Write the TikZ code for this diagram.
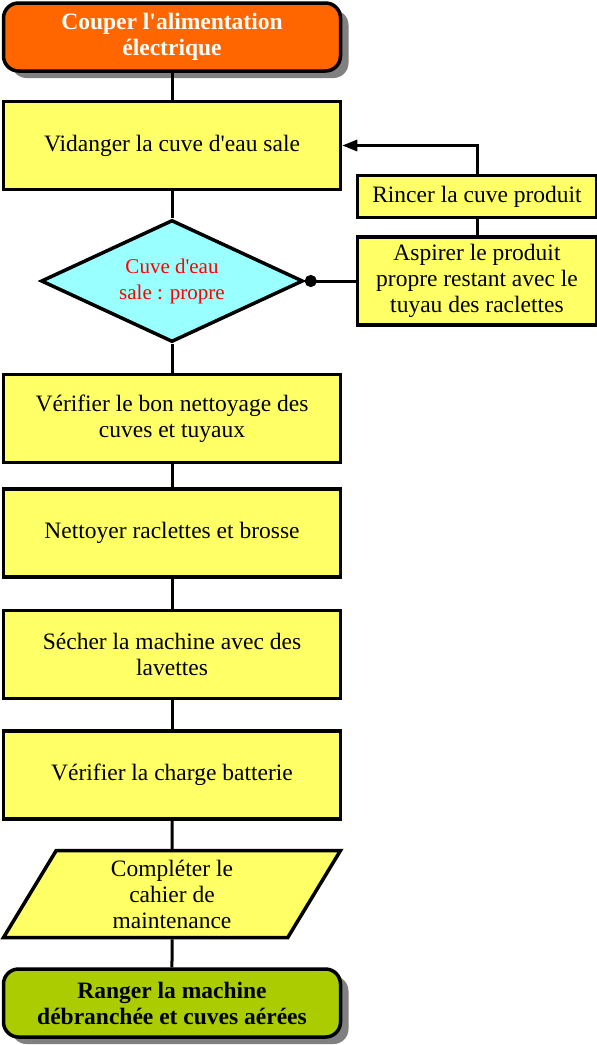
\documentclass[tikz,border=0pt]{standalone}
\usepackage{fontspec}
\setmainfont{Liberation Serif}
\usepackage{tikz}
\usetikzlibrary{positioning,arrows.meta,shapes.geometric,shadows}
\usepackage{xcolor}
\definecolor{TermOrange}{RGB}{255,102,0}
\definecolor{TermGreen}{RGB}{170,204,0}
\definecolor{BoxYellow}{RGB}{255,255,102}
\definecolor{TestCyan}{RGB}{153,255,255}
\definecolor{ShadowGray}{RGB}{128,128,128}
\newcommand{\q}{\textquotesingle}

\begin{document}
\begin{tikzpicture}[x=1pt, y=-1pt,
    termbox/.style={rectangle, draw=black, line width=3.5pt, rounded corners=15pt,
                 minimum width=337pt, minimum height=68pt, align=center,
                 font=\fontsize{23.5}{26}\selectfont\bfseries,
                 drop shadow={shadow xshift=8pt, shadow yshift=-7pt, fill=ShadowGray, opacity=1}},
    stepbox/.style={rectangle, draw=black, line width=3.5pt, fill=BoxYellow,
                 minimum width=337pt, minimum height=88pt, align=center,
                 font=\fontsize{23.5}{26}\selectfont},
    sidebox/.style={stepbox, minimum width=239pt},
    testbox/.style={diamond, aspect=2.2, draw=black, line width=3.5pt, fill=TestCyan, inner sep=0pt,
                 minimum width=262pt, minimum height=122pt, align=center,
                 text=red, font=\fontsize{21}{26}\selectfont},
    iobox/.style={trapezium, trapezium left angle=54, trapezium right angle=126,
                 trapezium stretches body, draw=black, line width=3.5pt, fill=BoxYellow,
                 minimum width=337pt, minimum height=87pt, inner sep=2pt, align=center,
                 font=\fontsize{23.5}{26}\selectfont},
    link/.style={line width=3pt},
    arrow/.style={-{Triangle[length=15pt, width=11pt]}, line width=3pt},
    dotlink/.style={{Circle[length=12pt]}-, line width=3pt}
]
    \useasboundingbox (0,0) rectangle (597,1045);
    % main column
    \node[termbox, fill=TermOrange, text=white] (start) at (172,37) {Couper l\q alimentation\\électrique};
    \node[stepbox, below=27pt of start] (vidanger) {Vidanger la cuve d\q eau sale};
    \node[testbox, below=27pt of vidanger] (cuve) {Cuve d\q eau\\sale : propre};
    \node[stepbox, below=29pt of cuve] (verifier) {Vérifier le bon nettoyage des\\cuves et tuyaux};
    \node[stepbox, below=23pt of verifier] (nettoyer) {Nettoyer raclettes et brosse};
    \node[stepbox, below=30pt of nettoyer] (secher) {Sécher la machine avec des\\lavettes};
    \node[stepbox, below=29pt of secher] (batterie) {Vérifier la charge batterie};
    \node[iobox, below=28pt of batterie] (cahier) {Compléter le\\cahier de\\maintenance};
    \node[termbox, fill=TermGreen, below=28pt of cahier] (ranger) {Ranger la machine\\débranchée et cuves aérées};
    % side branch
    \node[sidebox, right=51pt of cuve] (aspirer) {Aspirer le produit\\propre restant avec le\\tuyau des raclettes};
    \node[sidebox, minimum height=42pt, above=16pt of aspirer] (rincer) {Rincer la cuve produit};
    \draw[link] (start) -- (vidanger);
    \draw[link] (vidanger) -- (cuve);
    \draw[link] (cuve) -- (verifier);
    \draw[link] (verifier) -- (nettoyer);
    \draw[link] (nettoyer) -- (secher);
    \draw[link] (secher) -- (batterie);
    \draw[link] (batterie) -- (cahier);
    \draw[link] (cahier) -- (ranger);
    \draw[dotlink] (cuve.east) -- (aspirer.west);
    \draw[link] (aspirer) -- (rincer);
    \draw[arrow] (rincer.north) |- (vidanger.east);
\end{tikzpicture}
\end{document}
